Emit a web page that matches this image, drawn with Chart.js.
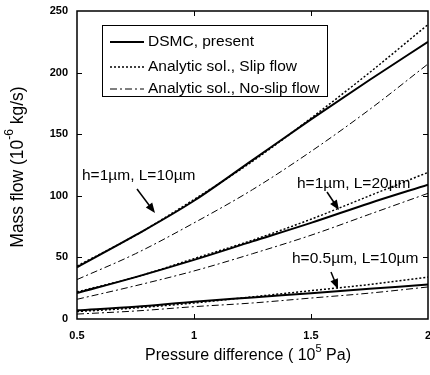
<!DOCTYPE html>
<html>
<head>
<meta charset="utf-8">
<script src="https://cdn.jsdelivr.net/npm/chart.js@4.4.1/dist/chart.umd.min.js"></script>
<style>
  html, body { margin: 0; padding: 0; background: #fff; }
</style>
</head>
<body>
<canvas id="myChart" width="430" height="375"></canvas>
<script>
'use strict';

// pressure difference (10^5 Pa)
const pressure = [0.5, 0.75, 1, 1.25, 1.5, 1.75, 2];

// h=1um, L=10um
const dsmc1 = [42, 68, 96, 129, 162, 194, 225];
const slip1 = [43, 68, 97, 128, 163, 200, 239];
const noslip1 = [32, 53, 78, 105, 136, 170, 207];

// h=1um, L=20um
const dsmc2 = [21, 34, 48, 63, 78, 94, 109];
const slip2 = [22, 34, 49, 64, 81, 100, 119];
const noslip2 = [16, 27, 39, 53, 68, 85, 102];

// h=0.5um, L=10um
const dsmc3 = [7, 10, 14, 17.5, 21, 24.5, 28];
const slip3 = [6, 9, 13, 18, 23, 28, 34];
const noslip3 = [4, 6.5, 10, 13, 17, 21, 26];

const xTicks = [0.5, 1, 1.5, 2];
const yTicks = [0, 50, 100, 150, 200, 250];

const legendLabels = ['DSMC, present', 'Analytic sol., Slip flow', 'Analytic sol., No-slip flow'];

const FONT = '"Liberation Sans", Arial, sans-serif';

const styles = {
  dsmc: { borderWidth: 2, borderDash: [] },
  slip: { borderWidth: 1.5, borderDash: [2, 2] },
  noslip: { borderWidth: 1, borderDash: [7, 3, 2, 3] }
};

function series(vals, kind) {
  return {
    data: vals.map((v, i) => ({ x: pressure[i], y: v })),
    borderColor: '#000',
    borderWidth: styles[kind].borderWidth,
    borderDash: styles[kind].borderDash,
    pointRadius: 0,
    cubicInterpolationMode: 'monotone',
    fill: false
  };
}

function arrow(ctx, x1, y1, x2, y2) {
  const a = Math.atan2(y2 - y1, x2 - x1);
  ctx.beginPath();
  ctx.moveTo(x1, y1);
  ctx.lineTo(x2 - 6 * Math.cos(a), y2 - 6 * Math.sin(a));
  ctx.lineWidth = 1.5;
  ctx.stroke();
  ctx.beginPath();
  ctx.moveTo(x2, y2);
  ctx.lineTo(x2 - 10 * Math.cos(a) + 4 * Math.sin(a), y2 - 10 * Math.sin(a) - 4 * Math.cos(a));
  ctx.lineTo(x2 - 10 * Math.cos(a) - 4 * Math.sin(a), y2 - 10 * Math.sin(a) + 4 * Math.cos(a));
  ctx.closePath();
  ctx.fill();
}

// text with superscript parts, centred on x
function supText(ctx, parts, x, y, size) {
  const big = size + 'px ' + FONT;
  const small = Math.round(size * 0.68) + 'px ' + FONT;
  let w = 0;
  parts.forEach(p => { ctx.font = p.sup ? small : big; w += ctx.measureText(p.t).width; });
  let cx = x - w / 2;
  ctx.textAlign = 'left';
  ctx.textBaseline = 'middle';
  parts.forEach(p => {
    ctx.font = p.sup ? small : big;
    ctx.fillText(p.t, cx, p.sup ? y - size * 0.45 : y);
    cx += ctx.measureText(p.t).width;
  });
}

const decorPlugin = {
  id: 'decor',
  afterDraw(chart) {
    const ctx = chart.ctx;
    const a = chart.chartArea;
    const xs = chart.scales.x, ys = chart.scales.y;
    ctx.save();
    ctx.strokeStyle = '#000';
    ctx.fillStyle = '#000';
    ctx.setLineDash([]);

    // frame
    ctx.lineWidth = 1.5;
    ctx.strokeRect(a.left, a.top, a.right - a.left, a.bottom - a.top);

    // inward ticks
    ctx.lineWidth = 1;
    ctx.beginPath();
    xTicks.slice(1, -1).forEach(v => {
      const px = Math.round(xs.getPixelForValue(v)) + 0.5;
      ctx.moveTo(px, a.bottom); ctx.lineTo(px, a.bottom - 5);
      ctx.moveTo(px, a.top); ctx.lineTo(px, a.top + 5);
    });
    yTicks.slice(1, -1).forEach(v => {
      const py = Math.round(ys.getPixelForValue(v)) + 0.5;
      ctx.moveTo(a.left, py); ctx.lineTo(a.left + 5, py);
      ctx.moveTo(a.right, py); ctx.lineTo(a.right - 5, py);
    });
    ctx.stroke();

    // legend box
    ctx.fillStyle = '#fff';
    ctx.fillRect(102, 25, 225, 71);
    ctx.lineWidth = 1;
    ctx.strokeRect(102.5, 25.5, 225, 71);
    ctx.fillStyle = '#000';
    ctx.font = '15.5px ' + FONT;
    ctx.textAlign = 'left';
    ctx.textBaseline = 'middle';
    const kinds = ['dsmc', 'slip', 'noslip'];
    const rows = [42, 67, 89];
    kinds.forEach((k, i) => {
      ctx.beginPath();
      ctx.lineWidth = styles[k].borderWidth;
      ctx.setLineDash(styles[k].borderDash);
      ctx.moveTo(110, rows[i]); ctx.lineTo(144, rows[i]);
      ctx.stroke();
      ctx.setLineDash([]);
      ctx.fillText(legendLabels[i], 148, rows[i]);
    });

    // case labels
    ctx.font = '15.5px ' + FONT;
    ctx.fillText('h=1\u00b5m, L=10\u00b5m', 82, 176);
    ctx.fillText('h=1\u00b5m, L=20\u00b5m', 297, 184);
    ctx.fillText('h=0.5\u00b5m, L=10\u00b5m', 292, 259);
    arrow(ctx, 137, 189, 155, 213);
    arrow(ctx, 327, 192, 339, 210);
    arrow(ctx, 331, 272, 338, 289);

    // axis titles
    supText(ctx, [{ t: 'Pressure difference ( 10' }, { t: '5', sup: true }, { t: ' Pa)' }], 248, 356, 16);
    ctx.translate(18, 167);
    ctx.rotate(-Math.PI / 2);
    supText(ctx, [{ t: 'Mass flow (10' }, { t: '-6', sup: true }, { t: ' kg/s)' }], 0, 0, 17.5);
    ctx.restore();
  }
};

const ctx = document.getElementById('myChart').getContext('2d');
const myChart = new Chart(ctx, {
  type: 'line',
  data: {
    datasets: [
      series(dsmc1, 'dsmc'), series(slip1, 'slip'), series(noslip1, 'noslip'),
      series(dsmc2, 'dsmc'), series(slip2, 'slip'), series(noslip2, 'noslip'),
      series(dsmc3, 'dsmc'), series(slip3, 'slip'), series(noslip3, 'noslip')
    ]
  },
  options: {
    responsive: false,
    animation: false,
    devicePixelRatio: 1,
    layout: { padding: { top: 11, right: 2, left: 0, bottom: 0 } },
    plugins: { legend: { display: false }, tooltip: { enabled: false } },
    scales: {
      x: {
        type: 'linear',
        min: 0.5,
        max: 2,
        afterBuildTicks: s => { s.ticks = xTicks.map(v => ({ value: v })); },
        afterFit: s => { s.height = 56; s.paddingLeft = 0; s.paddingRight = 0; },
        grid: { display: false, drawTicks: false, tickLength: 0 },
        border: { display: false },
        ticks: {
          color: '#000',
          padding: 10,
          maxRotation: 0,
          font: { family: FONT, size: 11, weight: 'bold' },
          callback: v => String(v)
        }
      },
      y: {
        min: 0,
        max: 250,
        afterBuildTicks: s => { s.ticks = yTicks.map(v => ({ value: v })); },
        afterFit: s => { s.width = 77; s.paddingTop = 0; s.paddingBottom = 0; },
        grid: { display: false, drawTicks: false, tickLength: 0 },
        border: { display: false },
        ticks: {
          color: '#000',
          padding: 9,
          font: { family: FONT, size: 11, weight: 'bold' }
        }
      }
    }
  },
  plugins: [decorPlugin]
});
</script>
</body>
</html>
